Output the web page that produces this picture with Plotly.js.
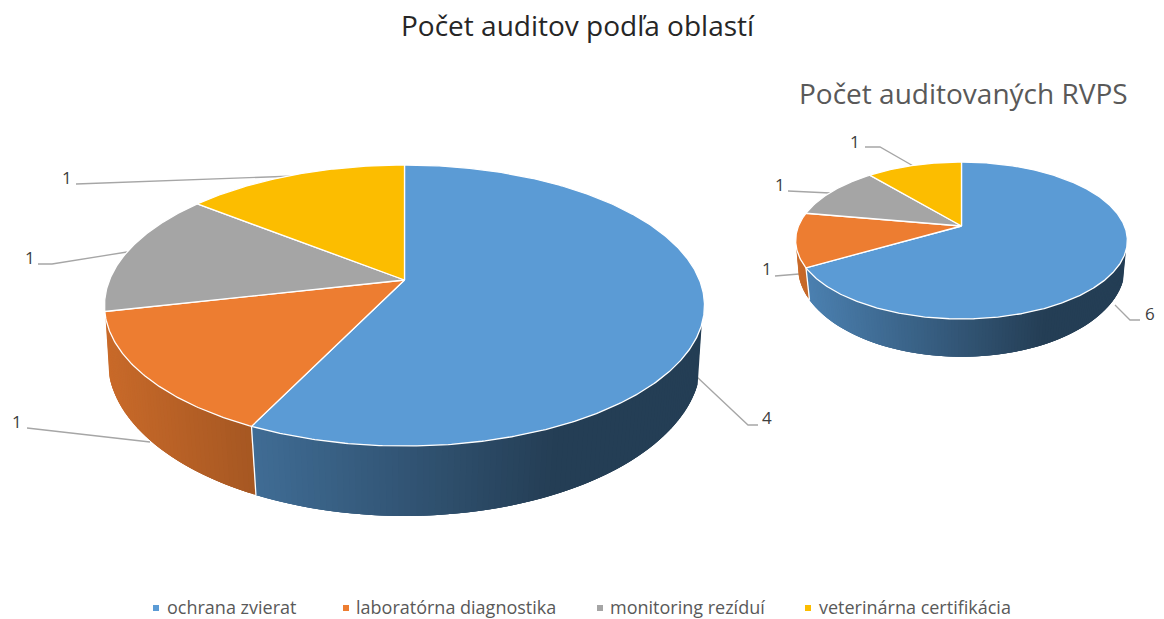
<!DOCTYPE html>
<html>
<head>
<meta charset="utf-8">
<script src="https://cdn.plot.ly/plotly-3.0.1.min.js"></script>
<style>html,body{margin:0;padding:0;background:#fff}#chart{width:1164px;height:619px}</style>
</head>
<body>
<div id="chart"></div>
<script>
// ---- data ----
const categories = ['ochrana zvierat', 'laboratórna diagnostika', 'monitoring rezíduí', 'veterinárna certifikácia'];
const auditCounts = [4, 1, 1, 1];
const rvpsCounts = [6, 1, 1, 1];
const colors = ['#5b9bd5', '#ed7d31', '#a5a5a5', '#fcbd00'];
const titleAudits = 'Počet auditov podľa oblastí';
const titleRvps = 'Počet auditovaných RVPS';

// ---- perspective geometry of the two discs (pixel space axes) ----
const leftPie = {cx: 404.5, cy: 280, a: 295, b: 135.9, k: 0.1815, cx2: 404.5, cy2: 335, a2: 293, b2: 152, k2: 0.16, xMin: 105, xW: 600};
const rightPie = {cx: 961.5, cy: 226, a: 163, b: 75.8, k: 0.1847, cx2: 961.5, cy2: 252, a2: 161.5, b2: 88, k2: 0.16, xMin: 796, xW: 332};
const wallFrom = 0.3;

function rim(p, deg, bottom) {
  const t = deg * Math.PI / 180, u = Math.sin(t), v = -Math.cos(t);
  if (bottom) { const d = 1 - p.k2 * v; return [p.cx2 + p.a2 * u / d, p.cy2 + p.b2 * v / d]; }
  const d = 1 - p.k * v; return [p.cx + p.a * u / d, p.cy + p.b * v / d];
}
function shade(hex, f) {
  const n = parseInt(hex.slice(1), 16);
  return 'rgb(' + [(n >> 16) & 255, (n >> 8) & 255, n & 255].map(c => Math.round(c * f)).join(',') + ')';
}
const traces = [];
function addPie(p, values) {
  const total = values.reduce((s, v) => s + v, 0);
  let start = 0;
  const spans = values.map(v => { const s = [start, start + v / total * 360]; start = s[1]; return s; });
  // side wall: overlapping bands so no seams show between them
  spans.forEach((s, i) => {
    for (let d = Math.floor(s[0]); d < s[1]; d++) {
      const d0 = Math.max(d, s[0]), d1 = Math.min(d + 3, s[1]);
      if (-Math.cos(d0 * Math.PI / 180) < wallFrom) continue;
      const A = rim(p, d0), B = rim(p, d1), C = rim(p, d1, true), D = rim(p, d0, true);
      const frac = ((A[0] + D[0]) / 2 - p.xMin) / p.xW;
      const col = shade(colors[i], Math.max(0.4, 0.85 - 0.6 * frac));
      traces.push({x: [A[0], B[0], C[0], D[0], A[0]], y: [A[1], B[1], C[1], D[1], A[1]],
        mode: 'none', fill: 'toself', fillcolor: col, hoverinfo: 'skip', showlegend: false});
    }
  });
  // separators on the wall
  spans.forEach(s => {
    if (-Math.cos(s[0] * Math.PI / 180) > wallFrom) {
      const A = rim(p, s[0]), D = rim(p, s[0], true);
      traces.push({x: [A[0], D[0]], y: [A[1], D[1]], mode: 'lines', line: {color: '#fff', width: 1.3}, hoverinfo: 'skip', showlegend: false});
    }
  });
  // top face
  spans.forEach((s, i) => {
    const xs = [p.cx], ys = [p.cy];
    for (let d = s[0]; ; d += 0.5) {
      const q = rim(p, Math.min(d, s[1])); xs.push(q[0]); ys.push(q[1]);
      if (d >= s[1]) break;
    }
    xs.push(p.cx); ys.push(p.cy);
    traces.push({x: xs, y: ys, mode: 'lines', fill: 'toself', fillcolor: colors[i], name: categories[i],
      line: {color: '#fff', width: 1.3}, showlegend: false, hoverinfo: 'name+text', text: String(values[i])});
  });
}
addPie(leftPie, auditCounts);
addPie(rightPie, rvpsCounts);

// ---- legend keys ----
const legendMarkX = [156, 346, 600, 808];
const legendTextX = [167, 356, 610, 819];
const legendY = 608;
categories.forEach((c, i) => {
  traces.push({x: [legendMarkX[i]], y: [legendY], mode: 'markers', marker: {symbol: 'square', size: 6, color: colors[i]}, name: c, showlegend: false, hoverinfo: 'name'});
});

// ---- leader lines & labels ----
const leaders = [
  'M295,176 L76,184', 'M127,252 L52,264 L38,264', 'M150,442 L27,428', 'M697,377 L748,425 L758,425',
  'M915,167 L880,147 L865,147', 'M830,193 L788,191', 'M799,274 L775,276', 'M1115,305 L1130,320 L1140,320'
];
const labelPos = [[767, 417, auditCounts[0]], [67, 177, auditCounts[3]], [30, 257, auditCounts[2]], [17, 421, auditCounts[1]],
  [1150, 313, rvpsCounts[0]], [855, 141, rvpsCounts[3]], [780, 184, rvpsCounts[2]], [767, 268, rvpsCounts[1]]];
const FONT = '"Open Sans", sans-serif';
const annotations = labelPos.map(l => ({x: l[0], y: l[1], text: String(l[2]), showarrow: false, xanchor: 'center', yanchor: 'middle', font: {family: FONT, size: 17, color: '#404040'}}));
categories.forEach((c, i) => annotations.push({x: legendTextX[i], y: legendY - 1, text: c, showarrow: false, xanchor: 'left', yanchor: 'middle', xshift: -2, font: {family: FONT, size: 18, color: '#595959'}}));
annotations.push({x: 578, y: 25, text: titleAudits, showarrow: false, xanchor: 'center', yanchor: 'middle', font: {family: FONT, size: 28, color: '#262626'}});
annotations.push({x: 963, y: 93, text: titleRvps, showarrow: false, xanchor: 'center', yanchor: 'middle', font: {family: FONT, size: 28, color: '#595959'}});

const layout = {
  width: 1164, height: 619, margin: {l: 0, r: 0, t: 0, b: 0},
  paper_bgcolor: '#fff', plot_bgcolor: '#fff', showlegend: false, hovermode: 'closest',
  xaxis: {range: [0, 1164], visible: false, fixedrange: true},
  yaxis: {range: [619, 0], visible: false, fixedrange: true},
  shapes: leaders.map(path => ({type: 'path', path, layer: 'below', line: {color: '#a6a6a6', width: 1.3}})),
  annotations
};
Plotly.newPlot('chart', traces, layout, {displayModeBar: false});
</script>
</body>
</html>
